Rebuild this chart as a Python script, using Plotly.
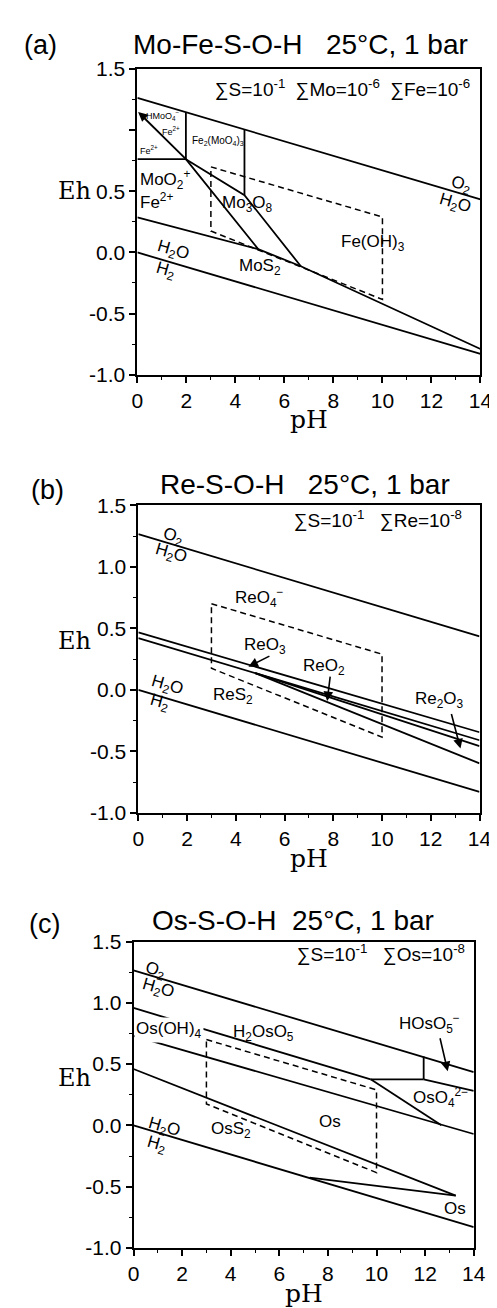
import plotly.graph_objects as go

W, H = 497, 1308

# ---------------- common water-stability lines and dashed box ----------------
O2_PH = [0, 14]
O2_EH = [1.265, 0.435]
H2_PH = [0, 14]
H2_EH = [0.0, -0.83]
BOX_PH = [3, 10, 10, 3, 3]
BOX_EH = [0.70, 0.29, -0.385, 0.175, 0.70]

# ---------------- panel (a) Mo-Fe-S-O-H ----------------
A_SULF_PH = [0, 4.93, 6.67, 14]
A_SULF_EH = [0.286, 0.027, -0.113, -0.79]
A_STEEP_PH = [0.28, 1.98, 4.93]
A_STEEP_EH = [1.10, 0.763, 0.027]
A_MO3O8_PH = [1.98, 4.37, 6.67]
A_MO3O8_EH = [0.763, 0.469, -0.113]
A_HORIZ_PH = [0, 1.98]
A_HORIZ_EH = [0.763, 0.763]
A_V1_PH = [1.98, 1.98]
A_V1_EH = [1.148, 0.763]
A_V2_PH = [4.37, 4.37]
A_V2_EH = [1.006, 0.469]

# ---------------- panel (b) Re-S-O-H ----------------
B_L1_PH = [0, 14]
B_L1_EH = [0.467, -0.345]
B_L2_PH = [0, 14]
B_L2_EH = [0.42, -0.41]
B_L3_PH = [4.8, 14]
B_L3_EH = [0.135, -0.457]
B_L4_PH = [4.8, 14]
B_L4_EH = [0.135, -0.598]

# ---------------- panel (c) Os-S-O-H ----------------
C_TOP_PH = [0, 9.76]
C_TOP_EH = [0.958, 0.376]
C_HORIZ_PH = [9.76, 11.94]
C_HORIZ_EH = [0.376, 0.376]
C_V_PH = [11.94, 11.94]
C_V_EH = [0.376, 0.562]
C_OSO4_PH = [11.94, 14]
C_OSO4_EH = [0.376, 0.282]
C_STEEP_PH = [9.76, 12.67]
C_STEEP_EH = [0.376, 0.002]
C_OS_PH = [0, 14]
C_OS_EH = [0.73, -0.07]
C_OSS2_PH = [0, 13.26]
C_OSS2_EH = [0.46, -0.573]
C_LOW_PH = [7.25, 13.26]
C_LOW_EH = [-0.425, -0.573]

X_TICKS = [0, 2, 4, 6, 8, 10, 12, 14]
Y_TICKS = [-1.0, -0.5, 0.0, 0.5, 1.0, 1.5]
Y_TEXT_A = ["-1.0", "-0.5", "0.0", "0.5", "", "1.5"]
Y_TEXT = ["-1.0", "-0.5", "0.0", "0.5", "1.0", "1.5"]

# panel pixel boxes (left, right, top, bottom)
PANELS = [(128, 484, 50, 361), (129, 483, 494, 807), (124, 477, 938, 1250)]

FONT = "Liberation Sans, Arial, sans-serif"
SERIF = "DejaVu Serif, serif"

fig = go.Figure()

def line(px, ey, k, dash=None, width=1.8):
    fig.add_trace(go.Scatter(
        x=px, y=ey, mode="lines", xaxis="x" + ("" if k == 1 else str(k)),
        yaxis="y" + ("" if k == 1 else str(k)),
        line=dict(color="black", width=width, dash=dash),
        showlegend=False, hoverinfo="skip"))

for k in (1, 2, 3):
    line(O2_PH, O2_EH, k)
    line(H2_PH, H2_EH, k)
    line(BOX_PH, BOX_EH, k, dash="6px,4px", width=1.5)

for px, ey in [(A_SULF_PH, A_SULF_EH), (A_STEEP_PH, A_STEEP_EH), (A_MO3O8_PH, A_MO3O8_EH),
               (A_HORIZ_PH, A_HORIZ_EH), (A_V1_PH, A_V1_EH), (A_V2_PH, A_V2_EH)]:
    line(px, ey, 1)
for px, ey in [(B_L1_PH, B_L1_EH), (B_L2_PH, B_L2_EH), (B_L3_PH, B_L3_EH), (B_L4_PH, B_L4_EH)]:
    line(px, ey, 2)
for px, ey in [(C_TOP_PH, C_TOP_EH), (C_HORIZ_PH, C_HORIZ_EH), (C_V_PH, C_V_EH),
               (C_OSO4_PH, C_OSO4_EH), (C_STEEP_PH, C_STEEP_EH), (C_OS_PH, C_OS_EH),
               (C_OSS2_PH, C_OSS2_EH), (C_LOW_PH, C_LOW_EH)]:
    line(px, ey, 3)

layout = dict(width=W, height=H, margin=dict(l=0, r=0, t=0, b=0),
              paper_bgcolor="white", plot_bgcolor="white", showlegend=False)

for k, (l, r, t, b) in enumerate(PANELS, start=1):
    sfx = "" if k == 1 else str(k)
    layout["xaxis" + sfx] = dict(
        domain=[l / W, r / W], range=[0, 14], anchor="y" + sfx,
        tickvals=X_TICKS, ticks="outside", ticklen=6, tickwidth=1.5, tickcolor="black",
        minor=dict(dtick=1, ticks="outside", ticklen=3, tickwidth=1.2, tickcolor="black"),
        showline=True, linewidth=1.8, linecolor="black", mirror=True,
        showgrid=False, zeroline=False, tickfont=dict(family=FONT, size=21, color="black"))
    layout["yaxis" + sfx] = dict(
        domain=[1 - b / H, 1 - t / H], range=[-1.0, 1.5], anchor="x" + sfx,
        tickvals=Y_TICKS, ticktext=Y_TEXT_A if k == 1 else Y_TEXT,
        ticks="outside", ticklen=6, tickwidth=1.5, tickcolor="black",
        minor=dict(dtick=0.25, ticks="outside", ticklen=3, tickwidth=1.2, tickcolor="black"),
        showline=True, linewidth=1.8, linecolor="black", mirror=True,
        showgrid=False, zeroline=False, tickfont=dict(family=FONT, size=21, color="black"))

fig.update_layout(**layout)

ann = []

def txt(k, x, y, s, size=17, angle=0, bg=None, family=FONT, xanchor="center"):
    sfx = "" if k == 1 else str(k)
    d = dict(x=x, y=y, xref="x" + sfx, yref="y" + sfx, text=s, showarrow=False,
             font=dict(family=family, size=size, color="black"), textangle=angle,
             xanchor=xanchor, yanchor="middle")
    if bg:
        d["bgcolor"] = bg
    ann.append(d)

def arrow(k, x0, y0, x1, y1):
    sfx = "" if k == 1 else str(k)
    ann.append(dict(x=x1, y=y1, ax=x0, ay=y0, xref="x" + sfx, yref="y" + sfx,
                    axref="x" + sfx, ayref="y" + sfx, text="", showarrow=True,
                    arrowhead=2, arrowsize=1.2, arrowwidth=1.6, arrowcolor="black"))

def paper(x, y, s, size, family=FONT, xanchor="center"):
    ann.append(dict(x=x / W, y=1 - y / H, xref="paper", yref="paper", text=s, showarrow=False,
                    font=dict(family=family, size=size, color="black"),
                    xanchor=xanchor, yanchor="middle"))

# titles / panel letters / axis titles
paper(28, 25, "(a)", 27)
paper(297, 25, "Mo-Fe-S-O-H   25°C, 1 bar", 28)
paper(35, 478, "(b)", 27)
paper(302, 473, "Re-S-O-H   25°C, 1 bar", 28)
paper(32, 920, "(c)", 27)
paper(289, 917, "Os-S-O-H  25°C, 1 bar", 28)
for (l, r, t, b), ehy in zip(PANELS, [174, 632, 1077]):
    paper(63, ehy, "Eh", 24, family=SERIF)
    paper((l + r) / 2, b + 46, "pH", 25, family=SERIF)

# sigma texts
paper(475, 70, "∑S=10<sup>-1</sup>  ∑Mo=10<sup>-6</sup>  ∑Fe=10<sup>-6</sup>", 19, xanchor="right")
paper(467, 508, "∑S=10<sup>-1</sup>   ∑Re=10<sup>-8</sup>", 19, xanchor="right")
paper(470, 950, "∑S=10<sup>-1</sup>   ∑Os=10<sup>-8</sup>", 19, xanchor="right")

# panel (a) labels
txt(1, 1.06, 1.12, "HMoO<sub>4</sub><sup>−</sup>", 9)
arrow(1, 0.2, 1.12, 0.03, 1.15)
txt(1, -0.55, 0.97, "MoO<sub>2</sub><sup>+</sup>", 9)
txt(1, 1.38, 0.995, "Fe<sup>2+</sup>", 9)
txt(1, 0.47, 0.84, "Fe<sup>2+</sup>", 9)
txt(1, 3.29, 0.915, "Fe<sub>2</sub>(MoO<sub>4</sub>)<sub>3</sub>", 10)
txt(1, 1.14, 0.60, "MoO<sub>2</sub><sup>+</sup>")
txt(1, 0.79, 0.42, "Fe<sup>2+</sup>")
txt(1, 4.47, 0.395, "Mo<sub>3</sub>O<sub>8</sub>")
txt(1, 9.63, 0.078, "Fe(OH)<sub>3</sub>")
txt(1, 5.0, -0.12, "MoS<sub>2</sub>")
txt(1, 13.2, 0.55, "O<sub>2</sub>", angle=16)
txt(1, 12.95, 0.40, "H<sub>2</sub>O", angle=16)
txt(1, 1.45, 0.01, "H<sub>2</sub>O", angle=16)
txt(1, 1.14, -0.15, "H<sub>2</sub>", angle=16)

# panel (b) labels
txt(2, 1.42, 1.24, "O<sub>2</sub>", angle=16)
txt(2, 1.33, 1.106, "H<sub>2</sub>O", angle=16)
txt(2, 4.98, 0.747, "ReO<sub>4</sub><sup>−</sup>")
txt(2, 5.21, 0.36, "ReO<sub>3</sub>")
arrow(2, 5.44, 0.28, 4.52, 0.188)
txt(2, 7.62, 0.188, "ReO<sub>2</sub>")
arrow(2, 7.88, 0.12, 7.75, -0.092)
txt(2, 12.36, -0.079, "Re<sub>2</sub>O<sub>3</sub>")
arrow(2, 12.83, -0.185, 13.22, -0.478)
txt(2, 3.9, -0.05, "ReS<sub>2</sub>")
txt(2, 1.16, 0.028, "H<sub>2</sub>O", angle=16)
txt(2, 0.86, -0.105, "H<sub>2</sub>", angle=16)

# panel (c) labels
txt(3, 0.9, 1.257, "O<sub>2</sub>", angle=16)
txt(3, 1.0, 1.11, "H<sub>2</sub>O", angle=16)
txt(3, 1.46, 0.776, "Os(OH)<sub>4</sub>", bg="white")
txt(3, 5.33, 0.75, "H<sub>2</sub>OsO<sub>5</sub>")
txt(3, 12.2, 0.83, "HOsO<sub>5</sub><sup>−</sup>")
arrow(3, 12.6, 0.723, 12.93, 0.442)
txt(3, 12.64, 0.228, "OsO<sub>4</sub><sup>2−</sup>")
txt(3, 8.1, 0.03, "Os")
txt(3, 4.0, -0.04, "OsS<sub>2</sub>")
txt(3, 1.26, -0.02, "H<sub>2</sub>O", angle=16)
txt(3, 0.93, -0.16, "H<sub>2</sub>", angle=16)
txt(3, 13.23, -0.68, "Os")

fig.update_layout(annotations=ann)
fig.write_html("out.html")
